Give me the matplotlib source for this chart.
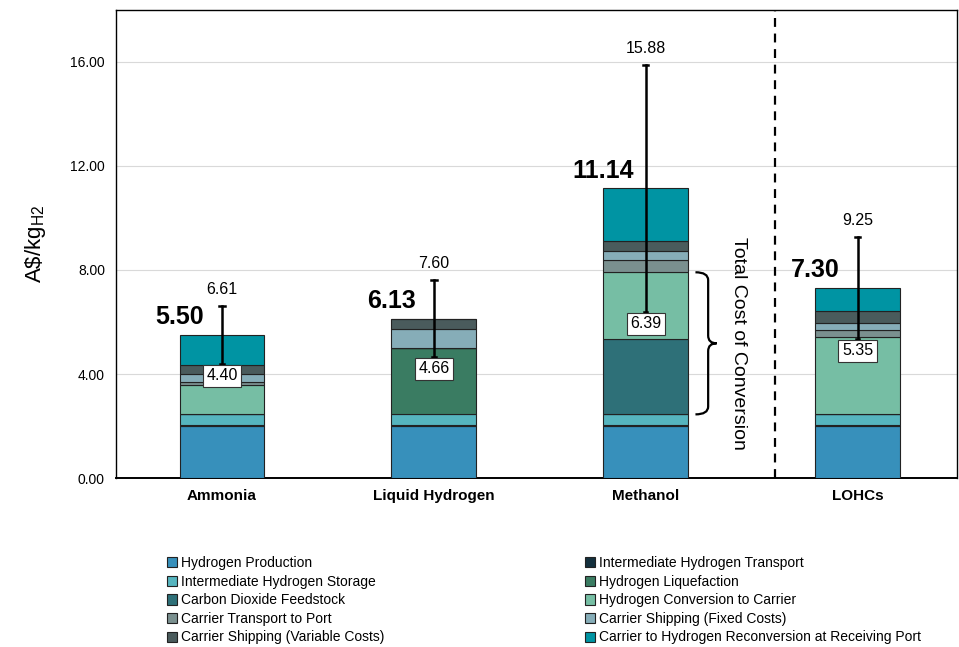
import numpy as np
import matplotlib
matplotlib.use("Agg")
import matplotlib.pyplot as plt
from matplotlib.patches import Patch
from matplotlib.path import Path
from matplotlib.patches import PathPatch

plt.rcParams["font.family"] = ["Liberation Sans", "DejaVu Sans"]

carriers = ["Ammonia", "Liquid Hydrogen", "Methanol", "LOHCs"]
components = [
    "Hydrogen Production",
    "Intermediate Hydrogen Transport",
    "Intermediate Hydrogen Storage",
    "Hydrogen Liquefaction",
    "Carbon Dioxide Feedstock",
    "Hydrogen Conversion to Carrier",
    "Carrier Transport to Port",
    "Carrier Shipping (Fixed Costs)",
    "Carrier Shipping (Variable Costs)",
    "Carrier to Hydrogen Reconversion at Receiving Port",
]
colors = ["#3790bb", "#14303d", "#56b5bf", "#3a7c62", "#2e7078",
          "#76bea4", "#7a908f", "#86adb8", "#4a5b5c", "#0094a3"]

# cost per component (A$/kgH2), one list per carrier, in component order
ammonia = [2.00, 0.05, 0.40, 0.00, 0.00, 1.13, 0.12, 0.29, 0.36, 1.15]
liquid_h2 = [2.00, 0.05, 0.40, 2.55, 0.00, 0.00, 0.00, 0.72, 0.41, 0.00]
methanol = [2.00, 0.05, 0.40, 0.00, 2.88, 2.58, 0.49, 0.32, 0.41, 2.01]
lohc = [2.00, 0.05, 0.40, 0.00, 0.00, 2.97, 0.27, 0.28, 0.47, 0.86]

totals = [5.50, 6.13, 11.14, 7.30]
range_low = [4.40, 4.66, 6.39, 5.35]
range_high = [6.61, 7.60, 15.88, 9.25]

data = np.array([ammonia, liquid_h2, methanol, lohc])
x = np.arange(len(carriers))
width = 0.40

fig = plt.figure(figsize=(9.59, 6.47), dpi=100)
ax = fig.add_axes([0.121, 0.261, 0.877, 0.724])

bottom = np.zeros(len(carriers))
for i, comp in enumerate(components):
    ax.bar(x, data[:, i], width, bottom=bottom, color=colors[i],
           edgecolor="#222222", linewidth=0.8, zorder=3)
    bottom += data[:, i]

# error bars with range labels
for xi, lo, hi in zip(x, range_low, range_high):
    ax.plot([xi, xi], [lo, hi], color="black", lw=1.8, zorder=5)
    ax.plot([xi - 0.013, xi + 0.013], [hi, hi], color="black", lw=1.8, zorder=5)
    ax.plot([xi - 0.008, xi + 0.008], [lo, lo], color="black", lw=1.8, zorder=5)
    ax.text(xi, hi + 0.35, f"{hi:.2f}", ha="center", va="bottom", fontsize=11.5, zorder=6)
    ax.text(xi, lo - 0.17, f"{lo:.2f}", ha="center", va="top", fontsize=11.5, zorder=6,
            bbox=dict(boxstyle="square,pad=0.22", fc="white", ec="#333333", lw=0.8))

# total labels
for xi, t in zip(x, totals):
    ax.text(xi - width / 2, t + 0.22, f"{t:.2f}", ha="center", va="bottom",
            fontsize=18, fontweight="bold", zorder=6)

# brace for total cost of conversion (methanol)
y0 = sum(methanol[:3])
y1 = sum(methanol[:6])
ym = (y0 + y1) / 2
bx, tip, pt = 2.295, 2.235, 2.335
verts = [(tip, y1), (bx, y1), (bx, y1 - 0.3),
         (bx, ym + 0.3), (bx, ym), (pt, ym),
         (bx, ym), (bx, ym - 0.3),
         (bx, y0 + 0.3), (bx, y0), (tip, y0)]
codes = [Path.MOVETO, Path.CURVE3, Path.CURVE3,
         Path.LINETO, Path.CURVE3, Path.CURVE3,
         Path.CURVE3, Path.CURVE3,
         Path.LINETO, Path.CURVE3, Path.CURVE3]
ax.add_patch(PathPatch(Path(verts, codes), fill=False, lw=1.6, color="black", zorder=5))
ax.text(2.44, ym, "Total Cost of Conversion", rotation=-90, ha="center", va="center",
        fontsize=14)

# dashed separator before LOHCs
ax.axvline(2.61, color="black", lw=1.6, ls=(0, (4, 3)), zorder=4)

ax.set_xlim(-0.5, 3.47)
ax.set_ylim(0, 18)
ax.set_yticks([0, 4, 8, 12, 16])
ax.set_yticklabels([f"{v:.2f}" for v in [0, 4, 8, 12, 16]], fontsize=10)
ax.set_xticks(x)
ax.set_xticklabels(carriers, fontsize=11, fontweight="bold")
ax.tick_params(axis="both", length=0, pad=8)
ax.yaxis.grid(True, color="#d9d9d9", lw=0.8, zorder=0)
ax.set_axisbelow(True)
for s in ax.spines.values():
    s.set_color("black")
    s.set_linewidth(1.0)
ax.spines["bottom"].set_linewidth(1.4)
ax.set_ylabel("A\\$/kg$_{\\mathregular{H2}}$", fontsize=16, labelpad=16)

handles = [Patch(facecolor=c, edgecolor="#222222", lw=0.8) for c in colors]
left_idx = [0, 2, 4, 6, 8]
right_idx = [1, 3, 5, 7, 9]
leg_kw = dict(frameon=False, fontsize=10, handlelength=0.75, handleheight=0.75,
              handletextpad=0.3, labelspacing=0.33, borderaxespad=0)
fig.legend([handles[i] for i in left_idx], [components[i] for i in left_idx],
           loc="upper left", bbox_to_anchor=(0.168, 0.149), **leg_kw)
fig.legend([handles[i] for i in right_idx], [components[i] for i in right_idx],
           loc="upper left", bbox_to_anchor=(0.604, 0.149), **leg_kw)

fig.savefig("out.png", dpi=100)
